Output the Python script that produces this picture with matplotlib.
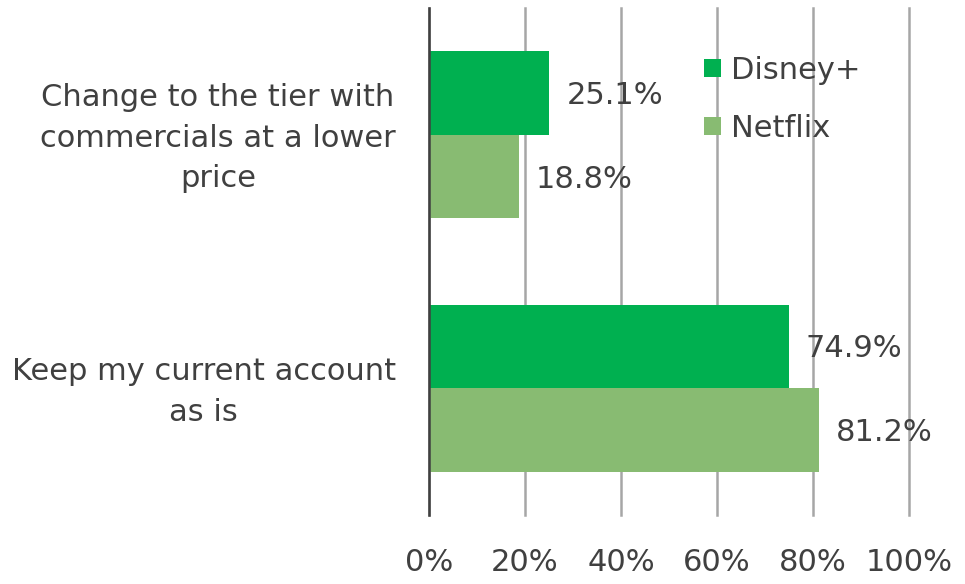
import numpy as np
import matplotlib.pyplot as plt

categories = ['Change to the tier with\ncommercials at a lower\nprice', 'Keep my current account\nas is']
disney = [25.1, 74.9]
netflix = [18.8, 81.2]
ticks = [0, 20, 40, 60, 80, 100]

c_disney = '#00b050'
c_netflix = '#88bb72'
txt = '#404040'
fs = 22

plt.rcParams['font.family'] = ['DejaVu Sans']

fig = plt.figure(figsize=(9.65, 5.84), dpi=100)
ax = fig.add_axes([429 / 965, 1 - 515 / 584, 480 / 965, 507 / 584])

y = np.arange(len(categories))
h = 0.33
b1 = ax.barh(y - h / 2, disney, height=h, color=c_disney, label='Disney+', zorder=3)
b2 = ax.barh(y + h / 2, netflix, height=h, color=c_netflix, label='Netflix', zorder=3)

# подписи значений
for bars, vals in [(b1, disney), (b2, netflix)]:
    for r, v in zip(bars, vals):
        ax.text(v + 3.5, r.get_y() + r.get_height() / 2 + 0.01, f'{v:.1f}%',
                va='center', ha='left', fontsize=fs, color=txt)

ax.set_xlim(0, 100)
ax.set_ylim(1.5, -0.5)
ax.set_xticks(ticks)
ax.set_xticklabels([f'{t}%' for t in ticks], fontsize=fs, color=txt)
ax.set_yticks(y - 0.02)
ax.set_yticklabels(categories, fontsize=fs, color=txt, multialignment='center',
                   linespacing=1.5)
ax.tick_params(axis='x', length=0, pad=24)
ax.tick_params(axis='y', length=0, pad=24)
ax.grid(axis='x', color='#a6a6a6', linewidth=1.8, zorder=0)
for gl in ax.get_xgridlines():
    gl.set_clip_on(False)
for s in ['top', 'right', 'bottom']:
    ax.spines[s].set_visible(False)
ax.spines['left'].set_color('#404040')
ax.spines['left'].set_linewidth(1.8)
ax.spines['left'].set_zorder(4)

leg = ax.legend(loc='upper left', bbox_to_anchor=(0.547, 0.93), frameon=False,
                fontsize=fs, handlelength=0.55, handleheight=0.55, handletextpad=0.35,
                labelspacing=0.95, borderaxespad=0)
for t in leg.get_texts():
    t.set_color(txt)

fig.savefig('out.png', dpi=100)
